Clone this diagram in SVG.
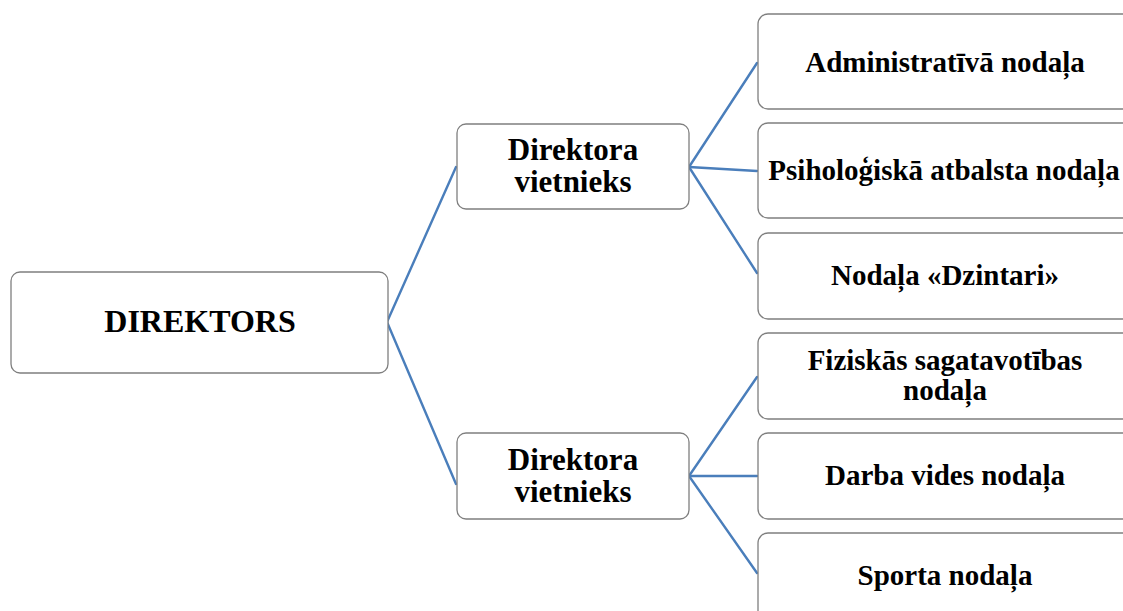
<svg xmlns="http://www.w3.org/2000/svg" width="1123" height="611" viewBox="0 0 1123 611">
<style>
.box{fill:#ffffff;stroke:#7f7f7f;stroke-width:1.3}
.t{font-family:"Liberation Serif","DejaVu Serif",serif;font-weight:bold;fill:#000;text-anchor:middle}
.c{fill:none;stroke:#4a7ebb;stroke-width:2.4;stroke-linecap:round;stroke-linejoin:round}
</style>
<rect width="1123" height="611" fill="#ffffff"/>
<g id="connectors">
<polyline class="c" points="456,167 387,322 456,484"/>
<line class="c" x1="689" y1="167" x2="757" y2="63"/>
<line class="c" x1="689" y1="167" x2="757" y2="171"/>
<line class="c" x1="689" y1="167" x2="757" y2="273"/>
<line class="c" x1="689" y1="476" x2="757" y2="377"/>
<line class="c" x1="689" y1="476" x2="757" y2="476"/>
<line class="c" x1="689" y1="476" x2="757" y2="573"/>
</g>
<g id="n-direktors">
<rect class="box" x="11" y="272" width="377" height="101" rx="9"/>
<text class="t" x="200" y="332" font-size="32">DIREKTORS</text>
</g>
<g id="n-vietnieks1">
<rect class="box" x="457" y="124" width="232" height="85" rx="9"/>
<text class="t" x="573" y="160" font-size="31">Direktora</text>
<text class="t" x="573" y="192" font-size="31">vietnieks</text>
</g>
<g id="n-vietnieks2">
<rect class="box" x="457" y="433" width="232" height="86" rx="9"/>
<text class="t" x="573" y="470" font-size="31">Direktora</text>
<text class="t" x="573" y="502" font-size="31">vietnieks</text>
</g>
<g id="n-admin">
<rect class="box" x="758" y="14" width="375" height="95" rx="10"/>
<text class="t" x="945" y="72" font-size="29">Administratīvā nodaļa</text>
</g>
<g id="n-psih">
<rect class="box" x="758" y="123" width="375" height="95" rx="10"/>
<text class="t" x="944" y="180" font-size="29">Psiholoģiskā atbalsta nodaļa</text>
</g>
<g id="n-dzintari">
<rect class="box" x="758" y="233" width="375" height="86" rx="10"/>
<text class="t" x="945" y="285" font-size="29">Nodaļa «Dzintari»</text>
</g>
<g id="n-fiz">
<rect class="box" x="758" y="333" width="375" height="86" rx="10"/>
<text class="t" x="945" y="370" font-size="29">Fiziskās sagatavotības</text>
<text class="t" x="945" y="400" font-size="29">nodaļa</text>
</g>
<g id="n-darba">
<rect class="box" x="758" y="433" width="375" height="86" rx="10"/>
<text class="t" x="945" y="485" font-size="29">Darba vides nodaļa</text>
</g>
<g id="n-sporta">
<rect class="box" x="758" y="533" width="375" height="90" rx="10"/>
<text class="t" x="945" y="585" font-size="29">Sporta nodaļa</text>
</g>
</svg>
